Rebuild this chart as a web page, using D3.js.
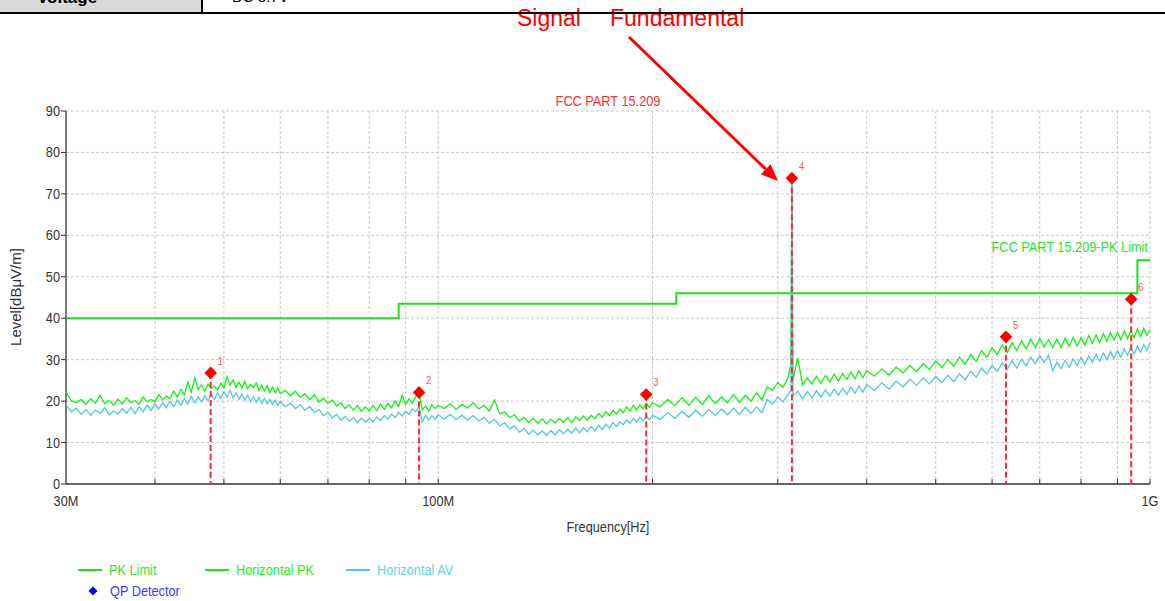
<!DOCTYPE html>
<html>
<head>
    <meta charset="utf-8">
    <title>Radiated Emission 30M - 1G</title>
    <script src="https://cdn.jsdelivr.net/npm/d3@7"></script>
    <style>
        body { margin: 0; background: #fff; }
        svg { display: block; }
    </style>
</head>
<body>
<script>
// sweep points, MHz
var freqMHz = [
    30,30.5,31,31.5,32,32.5,33,33.5,34,34.5,35,35.5,36,36.5,37,37.5,38,38.5,39,39.5,
    40,40.5,41,41.5,42,42.5,43,43.5,44,44.5,45,45.5,46,46.5,47,47.5,48,48.5,49,49.5,
    50,50.5,51,51.5,52,52.5,53,53.5,54,54.5,55,55.5,56,56.5,57,57.5,58,58.5,59,59.5,60,
    61,62,63,64,65,66,67,68,69,70,71,72,73,74,75,76,77,78,79,80,
    81,82,83,84,85,86,87,88,89,90,91,92,93,94,95,96,97,98,99,100,
    102,104,106,108,110,112,114,116,118,120,122,124,126,128,130,132,134,136,138,140,
    142,144,146,148,150,152,154,156,158,160,162,164,166,168,170,172,174,176,178,180,
    182,184,186,188,190,192,194,196,198,200,
    205,210,215,220,225,230,235,240,245,250,255,260,265,270,275,280,285,290,295,300,
    305,310,313,314,315,320,325,330,335,340,345,350,355,360,365,370,375,380,385,390,395,400,
    410,420,430,440,450,460,470,480,490,500,510,520,530,540,550,560,570,580,590,600,
    610,620,630,640,650,660,670,680,690,700,710,720,730,740,750,760,770,780,790,800,
    810,820,830,840,850,860,870,880,890,900,910,920,930,940,950,960,970,980,990,1000
];
// Horizontal PK trace, dBuV/m
var pkLevel = [
    22.3,20.1,19.6,20.4,19.2,20.6,19.5,21.3,19.4,20.2,19.0,20.5,19.3,20.8,19.6,20.1,19.2,21.0,19.8,20.4,
    19.9,21.6,20.3,21.2,20.6,22.4,21.0,22.8,21.5,24.6,22.2,25.6,22.8,23.9,22.4,24.1,23.0,23.6,22.7,24.3,
    23.2,25.9,23.8,25.1,23.4,24.6,23.1,24.8,22.9,24.0,23.3,24.4,22.6,23.8,22.5,23.7,22.1,23.3,22.0,23.1,21.8,
    22.6,21.3,22.4,20.9,21.8,20.4,21.5,19.8,20.7,19.4,20.3,18.8,19.6,18.2,19.1,17.8,18.9,17.5,18.6,17.6,
    18.9,17.7,19.3,18.0,19.4,18.4,20.1,18.7,21.4,19.2,20.6,19.5,21.2,21.8,17.9,18.8,17.6,19.1,18.2,19.0,
    18.2,19.4,18.0,19.2,18.3,19.6,18.1,19.0,17.6,20.3,16.9,17.4,16.0,16.7,15.2,16.1,14.8,15.9,14.6,15.7,
    14.5,15.6,14.7,15.8,14.9,16.0,14.8,16.2,15.3,16.4,15.4,16.6,15.8,17.0,16.1,17.4,16.5,17.8,16.9,18.1,
    17.2,18.6,17.6,19.0,17.9,19.2,18.1,19.5,18.4,19.6,
    18.6,20.4,18.9,20.8,19.0,20.9,19.2,21.3,19.4,21.0,19.6,21.6,19.7,21.4,20.0,22.0,20.3,23.4,22.6,24.5,
    23.3,25.6,29.0,73.6,25.0,30.4,23.9,25.6,24.1,26.0,24.3,26.2,24.6,26.5,24.8,26.7,25.2,27.0,25.4,27.3,25.7,27.4,
    26.0,27.8,26.3,28.2,26.8,28.6,27.1,29.0,27.6,29.7,28.1,30.0,28.4,30.6,28.9,31.3,29.6,32.2,30.5,32.9,
    31.2,33.6,31.7,34.1,32.2,34.5,32.6,34.9,33.0,35.1,33.1,34.8,32.9,35.0,33.0,35.2,33.2,35.4,33.3,35.3,
    33.5,35.8,33.9,36.0,34.1,36.3,34.4,36.5,34.7,36.6,34.8,36.9,35.1,37.0,35.3,37.4,35.6,37.6,35.9,37.2
];
// Horizontal AV trace, dBuV/m
var avLevel = [
    19.2,17.4,18.3,16.8,18.0,16.6,17.9,17.0,18.4,16.7,17.6,16.9,18.2,17.1,18.5,17.0,18.6,17.4,19.0,17.8,
    19.4,18.1,19.6,18.4,19.9,18.7,20.3,19.0,20.6,19.3,21.2,19.6,21.0,19.8,21.4,20.2,21.6,20.4,22.0,20.6,
    22.3,21.0,22.6,20.8,22.0,20.5,21.7,20.2,21.5,19.9,21.1,19.7,20.9,19.5,20.6,19.3,20.4,19.2,20.3,18.9,20.0,
    18.6,19.5,18.2,19.1,17.8,18.7,17.2,18.0,16.5,17.3,15.9,16.8,15.4,16.3,15.1,16.0,14.8,15.9,14.9,15.8,
    15.0,16.2,15.3,16.5,15.6,16.9,16.0,17.3,16.4,17.6,16.8,18.1,17.4,18.6,15.0,16.6,15.4,16.5,15.6,16.7,
    15.7,16.8,15.5,16.6,15.4,16.5,15.2,16.1,14.7,15.6,14.0,14.8,13.3,14.0,12.5,13.4,12.0,13.0,11.8,12.8,
    11.7,12.9,11.9,13.1,12.1,13.2,12.3,13.5,12.4,13.6,12.6,13.9,12.8,14.2,13.1,14.4,13.5,14.8,13.9,15.0,
    14.3,15.5,14.6,15.8,14.9,16.1,15.2,16.4,15.5,16.6,
    15.6,17.2,15.9,17.5,16.1,17.8,16.3,18.0,16.5,18.1,16.7,18.3,16.8,18.5,17.0,18.6,17.2,20.4,19.3,21.0,
    19.8,21.6,22.5,72.8,21.2,22.4,20.6,22.3,20.8,22.5,21.0,22.7,21.2,22.9,21.4,23.1,21.6,23.4,21.9,23.7,22.1,24.0,
    22.6,24.4,22.9,24.8,23.4,25.3,23.8,25.6,24.1,26.0,24.4,26.2,24.7,26.6,25.1,27.2,25.8,28.0,26.5,28.6,
    27.1,29.2,27.6,29.7,28.0,30.1,28.5,30.6,29.0,31.0,29.3,31.1,27.3,29.4,27.8,29.8,28.2,30.2,28.6,30.5,
    28.9,30.9,29.3,31.3,29.6,31.6,30.0,32.0,30.3,32.2,30.6,32.6,31.0,33.0,31.4,33.3,31.8,33.6,32.2,34.0
];
// FCC 15.209 peak limit (step starts)
var limitFreq = [30, 88, 216, 960, 1000];
var limitLevel = [40, 43.5, 46, 54, 54];
// QP detector readings
var qpFreq = [47.9, 94.0, 196.0, 314.0, 627.6, 941.0];
var qpLevel = [26.8, 22.1, 21.6, 73.8, 35.5, 44.6];
var qpNames = ["1", "2", "3", "4", "5", "6"];
// axes
var yTicks = [0, 10, 20, 30, 40, 50, 60, 70, 80, 90];
var xGrid = [40, 50, 60, 70, 80, 90, 100, 200, 300, 400, 500, 600, 700, 800, 900, 1000];
var xLabelFreq = [30, 100, 1000];
var xLabelText = ["30M", "100M", "1G"];

var W = 1165, H = 601;
var FONT = "Liberation Sans, Arial, sans-serif";

var svg = d3.select("body").append("svg")
    .attr("width", W)
    .attr("height", H);

var x = d3.scaleLog().domain([30, 1000]).range([66, 1150]);
var y = d3.scaleLinear().domain([0, 90]).range([484, 111]);

// the chart face is a bit squeezed sideways, so text is scaled on x
function squeezed(parent, str, px, py, size, anchor, fill) {
    return parent.append("text")
        .text(str)
        .attr("transform", "translate(" + px + "," + py + ") scale(0.85,1)")
        .attr("font-family", FONT)
        .attr("font-size", size + "px")
        .attr("text-anchor", anchor)
        .attr("fill", fill);
}

//////////// header strip (cut off table row) ////////////
svg.append("rect")
    .attr("x", 0).attr("y", 0)
    .attr("width", 201).attr("height", 13)
    .attr("fill", "#d9d9d9");
svg.append("text")
    .text("Voltage")
    .attr("x", 37).attr("y", 3)
    .attr("font-family", FONT)
    .attr("font-size", "17px")
    .attr("font-weight", "bold")
    .attr("fill", "#000");
svg.append("text")
    .text("DC 3.7V")
    .attr("x", 232).attr("y", 2)
    .attr("font-family", FONT)
    .attr("font-size", "15px")
    .attr("fill", "#000");

svg.append("text")
    .text("Signal")
    .attr("x", 517).attr("y", 26)
    .attr("font-family", FONT)
    .attr("font-size", "23px")
    .attr("fill", "#ff0000");
svg.append("text")
    .text("Fundamental")
    .attr("x", 610).attr("y", 26)
    .attr("font-family", FONT)
    .attr("font-size", "23px")
    .attr("fill", "#ff0000");

svg.append("line")
    .attr("x1", 0).attr("x2", W)
    .attr("y1", 13).attr("y2", 13)
    .attr("stroke", "#000")
    .attr("stroke-width", 2);
svg.append("line")
    .attr("x1", 202).attr("x2", 202)
    .attr("y1", 0).attr("y2", 13)
    .attr("stroke", "#000")
    .attr("stroke-width", 2);

//////////// grid ////////////
var grid = svg.append("g");
grid.selectAll("line.h")
    .data(yTicks.slice(1))
    .enter().append("line")
    .attr("class", "h")
    .attr("x1", x(30)).attr("x2", x(1000))
    .attr("y1", function(d) { return y(d); })
    .attr("y2", function(d) { return y(d); });
grid.selectAll("line.v")
    .data(xGrid)
    .enter().append("line")
    .attr("class", "v")
    .attr("x1", function(d) { return x(d); })
    .attr("x2", function(d) { return x(d); })
    .attr("y1", y(0)).attr("y2", y(90));
grid.selectAll("line")
    .attr("stroke", "#c8c8c8")
    .attr("stroke-width", 1)
    .attr("stroke-dasharray", "3,2");

//////////// axes ////////////
svg.append("line")
    .attr("x1", x(30)).attr("x2", x(30))
    .attr("y1", y(90)).attr("y2", y(0))
    .attr("stroke", "#7a7a7a")
    .attr("stroke-width", 2);
svg.append("line")
    .attr("x1", x(30)).attr("x2", x(1000))
    .attr("y1", y(0)).attr("y2", y(0))
    .attr("stroke", "#333")
    .attr("stroke-width", 1.5);

svg.selectAll("line.ytick")
    .data(yTicks)
    .enter().append("line")
    .attr("class", "ytick")
    .attr("x1", x(30) - 5).attr("x2", x(30))
    .attr("y1", function(d) { return y(d); })
    .attr("y2", function(d) { return y(d); })
    .attr("stroke", "#333");
yTicks.forEach(function(d) {
    squeezed(svg, d, x(30) - 6, y(d) + 5, 15, "end", "#333");
});

svg.selectAll("line.xtick")
    .data(xGrid)
    .enter().append("line")
    .attr("class", "xtick")
    .attr("x1", function(d) { return x(d); })
    .attr("x2", function(d) { return x(d); })
    .attr("y1", y(0) - 5).attr("y2", y(0))
    .attr("stroke", "#333");
xLabelFreq.forEach(function(d, i) {
    squeezed(svg, xLabelText[i], x(d), 506, 15, "middle", "#333");
});

squeezed(svg, "Frequency[Hz]", 608, 532, 15, "middle", "#333");
svg.append("text")
    .text("Level[dBμV/m]")
    .attr("transform", "translate(21,297) rotate(-90)")
    .attr("font-family", FONT)
    .attr("font-size", "15px")
    .attr("text-anchor", "middle")
    .attr("fill", "#333");

//////////// limit line ////////////
var limitLine = d3.line()
    .curve(d3.curveStepAfter)
    .x(function(d) { return x(d[0]); })
    .y(function(d) { return y(d[1]); });
svg.append("path")
    .datum(d3.zip(limitFreq, limitLevel))
    .attr("d", limitLine)
    .attr("fill", "none")
    .attr("stroke", "#1fe01f")
    .attr("stroke-width", 2);

squeezed(svg, "FCC PART 15.209", 608, 106, 15, "middle", "#ff3030");
squeezed(svg, "FCC PART 15.209-PK Limit", 1148, 252, 15, "end", "#33dd33");

//////////// traces ////////////
var trace = d3.line()
    .x(function(d) { return x(d[0]); })
    .y(function(d) { return y(d[1]); });
svg.append("path")
    .datum(d3.zip(freqMHz, pkLevel))
    .attr("d", trace)
    .attr("fill", "none")
    .attr("stroke", "#14f014")
    .attr("stroke-width", 1.3);
svg.append("path")
    .datum(d3.zip(freqMHz, avLevel))
    .attr("d", trace)
    .attr("fill", "none")
    .attr("stroke", "#52c8da")
    .attr("stroke-width", 1.3);

//////////// QP markers ////////////
var qp = d3.zip(qpFreq, qpLevel, qpNames);
svg.selectAll("line.qp")
    .data(qp)
    .enter().append("line")
    .attr("class", "qp")
    .attr("x1", function(d) { return x(d[0]); })
    .attr("x2", function(d) { return x(d[0]); })
    .attr("y1", function(d) { return y(d[1]); })
    .attr("y2", y(0))
    .attr("stroke", "#ff2a2a")
    .attr("stroke-width", 2)
    .attr("stroke-dasharray", "6,3");
svg.selectAll("path.qp")
    .data(qp)
    .enter().append("path")
    .attr("class", "qp")
    .attr("d", d3.symbol().type(d3.symbolSquare).size(80))
    .attr("transform", function(d) {
        return "translate(" + x(d[0]) + "," + y(d[1]) + ") rotate(45)";
    })
    .attr("fill", "#ff0000");
qp.forEach(function(d) {
    squeezed(svg, d[2], x(d[0]) + 7, y(d[1]) - 8, 11, "start", "#ff5050");
});

//////////// arrow to the fundamental ////////////
var ax0 = 629, ay0 = 37, ax1 = 778, ay1 = 181;
var ang = Math.atan2(ay1 - ay0, ax1 - ax0);
var headLen = 17, headHalf = 7;
var bx = ax1 - headLen * Math.cos(ang), by = ay1 - headLen * Math.sin(ang);
svg.append("line")
    .attr("x1", ax0).attr("y1", ay0)
    .attr("x2", bx).attr("y2", by)
    .attr("stroke", "#ff0000")
    .attr("stroke-width", 3);
svg.append("path")
    .attr("d", "M" + ax1 + "," + ay1 +
        "L" + (bx + headHalf * Math.sin(ang)) + "," + (by - headHalf * Math.cos(ang)) +
        "L" + (bx - headHalf * Math.sin(ang)) + "," + (by + headHalf * Math.cos(ang)) + "Z")
    .attr("fill", "#ff0000");

//////////// legend ////////////
var legendItems = [
    { name: "PK Limit", color: "#1fe01f", text: "#33e033", x: 78 },
    { name: "Horizontal PK", color: "#14f014", text: "#22ee22", x: 205 },
    { name: "Horizontal AV", color: "#52c8da", text: "#66d2e2", x: 346 }
];
legendItems.forEach(function(d) {
    svg.append("line")
        .attr("x1", d.x).attr("x2", d.x + 24)
        .attr("y1", 570).attr("y2", 570)
        .attr("stroke", d.color)
        .attr("stroke-width", 2);
    squeezed(svg, d.name, d.x + 31, 575, 15, "start", d.text);
});
svg.append("path")
    .attr("d", d3.symbol().type(d3.symbolSquare).size(40))
    .attr("transform", "translate(93,591) rotate(45)")
    .attr("fill", "#0000ee");
squeezed(svg, "QP Detector", 110, 596, 15, "start", "#3a3aff");
</script>
</body>
</html>
